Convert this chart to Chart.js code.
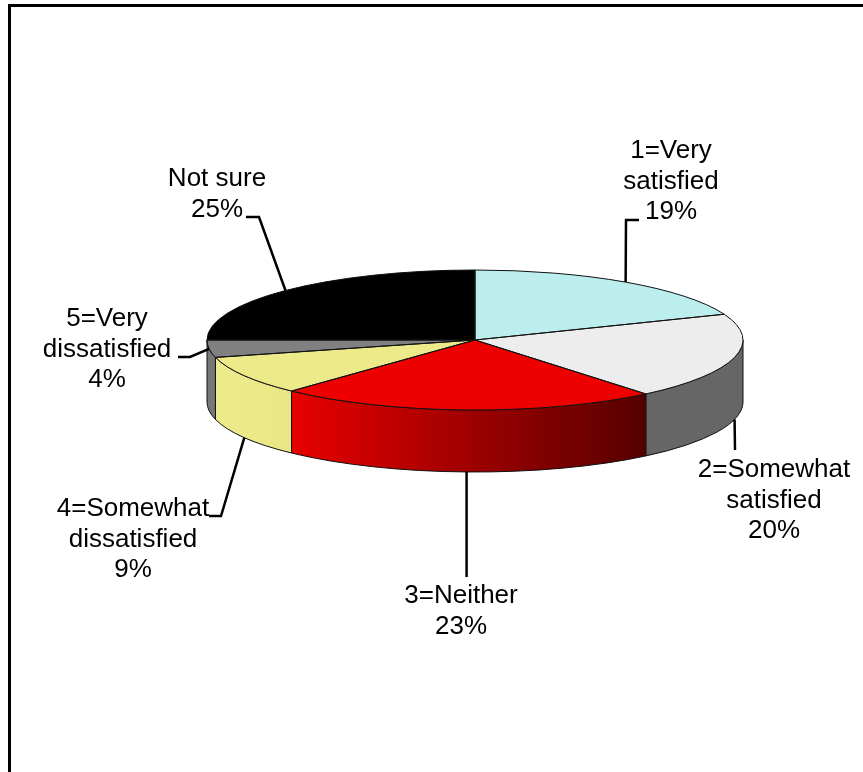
<!DOCTYPE html>
<html>
<head>
<meta charset="utf-8">
<title>Satisfaction pie</title>
<script src="https://cdn.jsdelivr.net/npm/chart.js@4"></script>
<style>
    html, body { margin: 0; padding: 0; background: #fff; overflow: hidden; }
    #frame { position: absolute; left: 8px; top: 4px; right: 0; bottom: 0; border-top: 3px solid #000; border-left: 3px solid #000; }
    #pie { position: absolute; left: 0; top: 0; }
</style>
</head>
<body>
<div id="frame"></div>
<canvas id="pie" width="863" height="772"></canvas>
<script>
// Data
const categories = [['1=Very', 'satisfied'], ['2=Somewhat', 'satisfied'], ['3=Neither'], ['4=Somewhat', 'dissatisfied'], ['5=Very', 'dissatisfied'], ['Not sure']];
const percents = [19, 20, 23, 9, 4, 25];

// Colours
const topColors = ['#BDEEEE', '#EDEDED', '#EE0000', '#EDEA8A', '#808080', '#000000'];
const wallFrom = ['#BDEEEE', '#666666', '#E80000', '#EEEB8C', '#777777', '#000000'];
const wallTo = ['#BDEEEE', '#666666', '#560000', '#E9E685', '#777777', '#000000'];

// Flattened 3D look
const RADIUS = 268;
const FLAT_RADIUS = 70;
const DEPTH = 62;
const FONT = '26px "Liberation Sans", Arial, sans-serif';
const LINE_H = 30.5;

// Where each label sits: text centre, first baseline, leader elbow
const labelX = [671, 774, 461, 133, 107, 217];
const labelY = [158, 477, 603, 516, 326, 186];
const elbowX = [[639, 626], [735], [], [209, 221], [178, 190], [246, 259]];
const elbowY = [[220, 220], [450], [], [516, 516], [357, 357], [217, 217]];
const leaderEnd = [[467, 577]]; // 3=Neither runs straight down to its text
const anchorOnWall = [false, true, true, true, false, false];

function ellipsePath(ctx, cx, cy, a0, a1, ccw) {
    ctx.ellipse(cx, cy, RADIUS, FLAT_RADIUS, 0, a0, a1, ccw);
}

const pie3d = {
    id: 'pie3d',
    beforeDatasetsDraw(chart) {
        const ctx = chart.ctx;
        const arcs = chart.getDatasetMeta(0).data;
        const cx = arcs[0].x, cy = arcs[0].y;

        // Side wall, only the part of each slice facing the viewer
        arcs.forEach((arc, i) => {
            const a0 = Math.max(arc.startAngle, 0);
            const a1 = Math.min(arc.endAngle, Math.PI);
            if (a1 <= a0) return;
            const x0 = cx + RADIUS * Math.cos(a1);
            const x1 = cx + RADIUS * Math.cos(a0);
            const grad = ctx.createLinearGradient(x0, 0, x1, 0);
            grad.addColorStop(0, wallFrom[i]);
            grad.addColorStop(1, wallTo[i]);
            ctx.beginPath();
            ellipsePath(ctx, cx, cy, a0, a1, false);
            ellipsePath(ctx, cx, cy + DEPTH, a1, a0, true);
            ctx.closePath();
            ctx.fillStyle = grad;
            ctx.fill();
            ctx.lineWidth = 1;
            ctx.strokeStyle = '#111';
            ctx.stroke();
        });

        // Squash the circle the library draws into the top ellipse
        ctx.save();
        ctx.translate(cx, cy);
        ctx.scale(1, FLAT_RADIUS / RADIUS);
        ctx.translate(-cx, -cy);
    },
    afterDatasetsDraw(chart) {
        const ctx = chart.ctx;
        ctx.restore();
        const arcs = chart.getDatasetMeta(0).data;
        const cx = arcs[0].x, cy = arcs[0].y;

        // Thin outlines on the top face
        ctx.lineWidth = 1;
        ctx.strokeStyle = '#111';
        arcs.forEach(arc => {
            ctx.beginPath();
            ctx.moveTo(cx, cy);
            ellipsePath(ctx, cx, cy, arc.startAngle, arc.endAngle, false);
            ctx.closePath();
            ctx.stroke();
        });

        // Leader lines start on the rim at the middle of the slice
        ctx.lineWidth = 2.5;
        ctx.strokeStyle = '#000';
        ctx.lineJoin = 'miter';
        arcs.forEach((arc, i) => {
            const mid = (arc.startAngle + arc.endAngle) / 2;
            const ax = cx + RADIUS * Math.cos(mid);
            const ay = cy + FLAT_RADIUS * Math.sin(mid) + (anchorOnWall[i] ? DEPTH : 0);
            ctx.beginPath();
            if (elbowX[i].length) {
                ctx.moveTo(elbowX[i][0], elbowY[i][0]);
                for (let k = 1; k < elbowX[i].length; k++) ctx.lineTo(elbowX[i][k], elbowY[i][k]);
                ctx.lineTo(ax, ay);
            } else {
                ctx.moveTo(ax, ay);
                ctx.lineTo(ax, leaderEnd[0][1]);
            }
            ctx.stroke();
        });

        // Labels
        ctx.fillStyle = '#000';
        ctx.font = FONT;
        ctx.textAlign = 'center';
        ctx.textBaseline = 'alphabetic';
        categories.forEach((lines, i) => {
            const all = lines.concat(percents[i] + '%');
            all.forEach((line, k) => ctx.fillText(line, labelX[i], labelY[i] + k * LINE_H));
        });
    }
};

const ctx = document.getElementById('pie').getContext('2d');
new Chart(ctx, {
    type: 'pie',
    data: {
        labels: categories,
        datasets: [{
            data: percents,
            backgroundColor: topColors,
            borderWidth: 0,
            radius: RADIUS
        }]
    },
    options: {
        responsive: false,
        animation: false,
        layout: { padding: { left: 87, bottom: 92 } },
        plugins: {
            legend: { display: false },
            tooltip: { enabled: false }
        }
    },
    plugins: [pie3d]
});
</script>
</body>
</html>
